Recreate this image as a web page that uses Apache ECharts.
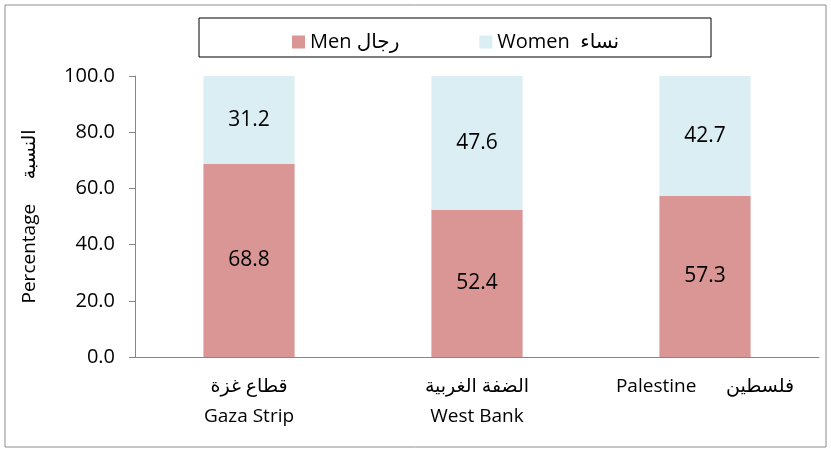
<!DOCTYPE html>
<html>
<head>
<meta charset="utf-8">
<script src="https://cdn.jsdelivr.net/npm/echarts@6/dist/echarts.min.js"></script>
<style>
  html, body { margin: 0; padding: 0; background: #fff; }
  #chart { width: 831px; height: 452px; }
</style>
</head>
<body>
<div id="chart"></div>
<script>
    // data
    var categories = ['قطاع غزة\nGaza Strip', 'الضفة الغربية\nWest Bank', 'Palestine      فلسطين'];
    var men = [68.8, 52.4, 57.3];
    var women = [31.2, 47.6, 42.7];
    var seriesNames = ['Men رجال', 'Women  نساء'];
    var yTicks = [0, 20, 40, 60, 80, 100];

    var font = '"Open Sans", "DejaVu Sans", sans-serif';

    var myChart = echarts.init(document.getElementById('chart'));
    myChart.setOption({
        animation: false,
        textStyle: { fontFamily: font, color: '#000' },
        graphic: [
            {
                type: 'rect',
                shape: { x: 5, y: 5, width: 821, height: 442 },
                style: { fill: 'none', stroke: '#8c8c8c', lineWidth: 1 },
                z: -1
            },
            {
                type: 'rect',
                shape: { x: 199, y: 18, width: 512, height: 39 },
                style: { fill: 'none', stroke: '#000', lineWidth: 1 },
                z: -1
            }
        ],
        legend: {
            top: 27,
            left: 287,
            itemWidth: 13,
            itemHeight: 13,
            itemGap: 80,
            icon: 'rect',
            textStyle: { fontSize: 20, fontFamily: font, color: '#000' },
            data: seriesNames
        },
        grid: {
            left: 135,
            right: 12,
            top: 76,
            bottom: 95,
            containLabel: false
        },
        xAxis: {
            type: 'category',
            data: categories,
            axisLine: { lineStyle: { color: '#868686' } },
            axisTick: { show: false },
            axisLabel: {
                interval: 0,
                hideOverlap: false,
                fontSize: 19,
                color: '#000',
                margin: 15,
                lineHeight: 30,
                fontFamily: font
            }
        },
        yAxis: {
            type: 'value',
            min: yTicks[0],
            max: yTicks[yTicks.length - 1],
            interval: 20,
            name: 'Percentage     النسبة',
            nameLocation: 'middle',
            nameGap: 96,
            nameTextStyle: { fontSize: 19, color: '#000', fontFamily: font },
            axisLine: { show: true, lineStyle: { color: '#868686' } },
            axisTick: { show: true, length: 6, lineStyle: { color: '#868686' } },
            splitLine: { show: false },
            axisLabel: {
                fontSize: 20,
                color: '#000',
                margin: 20,
                fontFamily: font,
                formatter: function (v) { return v.toFixed(1); }
            }
        },
        series: [
            {
                name: seriesNames[0],
                type: 'bar',
                stack: 'total',
                barWidth: '40%',
                itemStyle: { color: '#d99694' },
                label: {
                    show: true,
                    position: 'inside',
                    fontSize: 21,
                    color: '#000',
                    fontFamily: font,
                    formatter: function (p) { return p.value.toFixed(1); }
                },
                data: men
            },
            {
                name: seriesNames[1],
                type: 'bar',
                stack: 'total',
                barWidth: '40%',
                itemStyle: { color: '#dbeef3' },
                label: {
                    show: true,
                    position: 'inside',
                    fontSize: 21,
                    color: '#000',
                    fontFamily: font,
                    formatter: function (p) { return p.value.toFixed(1); }
                },
                data: women
            }
        ]
    });
</script>
</body>
</html>
